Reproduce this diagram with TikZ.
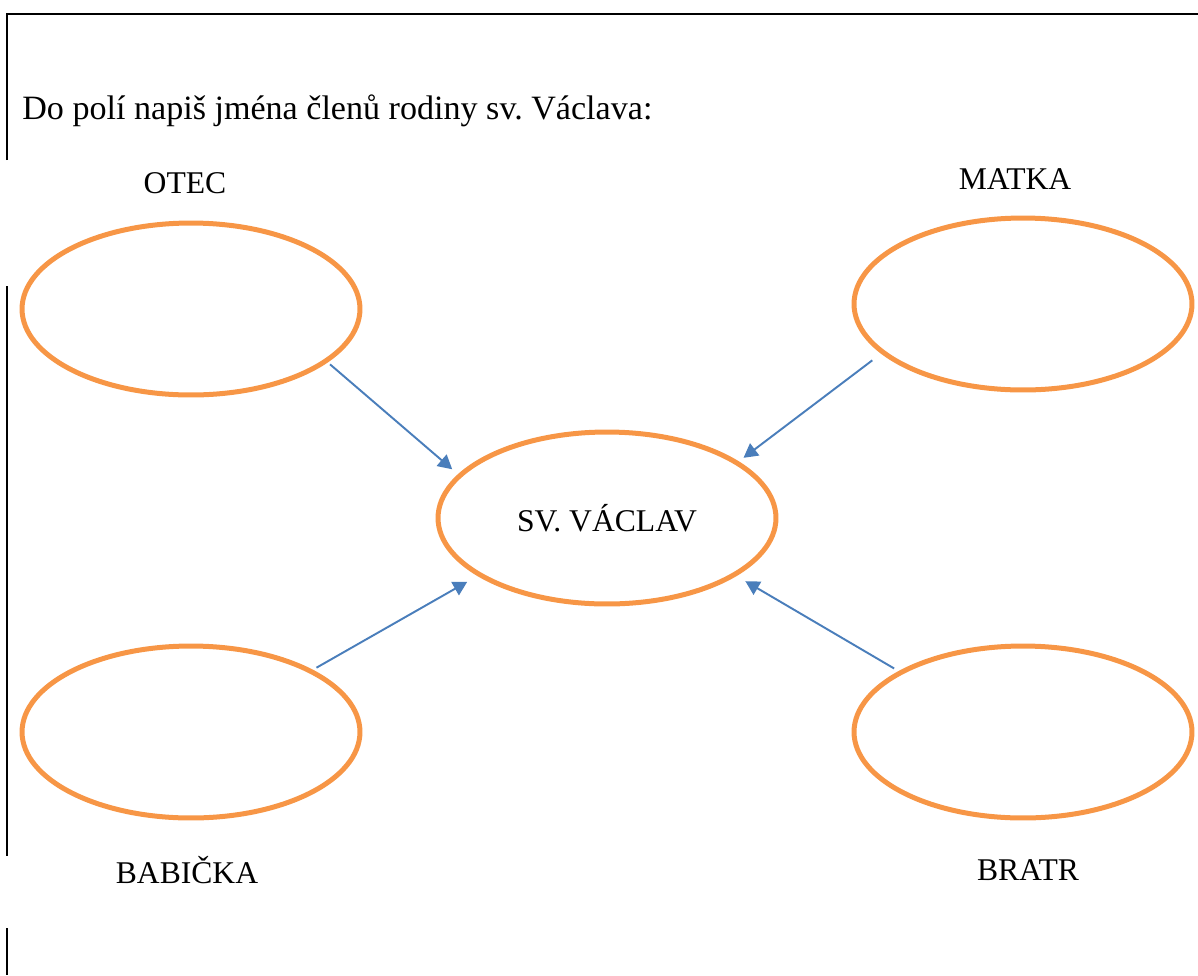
\documentclass[tikz,border=0pt]{standalone}
\usepackage{fontspec}
\setmainfont{Liberation Serif}
\usetikzlibrary{shapes}
\usetikzlibrary{arrows.meta}
\definecolor{fieldorange}{HTML}{F79646}
\definecolor{linkblue}{HTML}{4A7EBB}

\begin{document}
\begin{tikzpicture}[x=0.02cm, y=-0.02cm,
		every node/.style={font=\fontsize{18}{22}\selectfont},
		field/.style={ellipse, draw=fieldorange, line width=0.1cm, minimum width=6.76cm, minimum height=3.44cm, inner sep=0pt, outer sep=0pt},
		link/.style={draw=linkblue, line width=1.1pt, -{Triangle[length=0.28cm,width=0.3cm]}},
		word/.style={anchor=base, inner sep=0pt},
		frame/.style={line width=0.045cm}]
	\useasboundingbox (0,0) rectangle (1198,975);
	
	% page edges
	\draw[frame] (7,160) -- (7,14) -- (1198,14);
	\draw[frame] (7,286) -- (7,856);
	\draw[frame] (7,928) -- (7,975);
	
	\node[word, anchor=base west, font=\fontsize{19.4}{23}\selectfont] (task) at (22,119) {Do polí napiš jména členů rodiny sv.\ Václava:};
	
	\node[field] (otec) at (191,309) {};
	\node[field] (matka) at (1023,304) {};
	\node[field] (vaclav) at (607,518) {SV. VÁCLAV};
	\node[field] (babicka) at (191,732) {};
	\node[field] (bratr) at (1023,732) {};
	
	\node[word] (otecname) at (185,193) {OTEC};
	\node[word] (matkaname) at (1015,189) {MATKA};
	\node[word] (babickaname) at (187,883) {BABIČKA};
	\node[word] (bratrname) at (1028,880) {BRATR};
	
	\draw[link, shorten <=0.11cm, shorten >=0.2cm] (otec.-21) -- (vaclav.164);
	\draw[link, shorten <=0.27cm, shorten >=0.17cm] (matka.-161) -- (vaclav.23);
	\draw[link, shorten <=0.14cm, shorten >=0.29cm] (babicka.27) -- (vaclav.-156);
	\draw[link, shorten <=0.16cm, shorten >=0.26cm] (bratr.154) -- (vaclav.-24);
\end{tikzpicture}
\end{document}
